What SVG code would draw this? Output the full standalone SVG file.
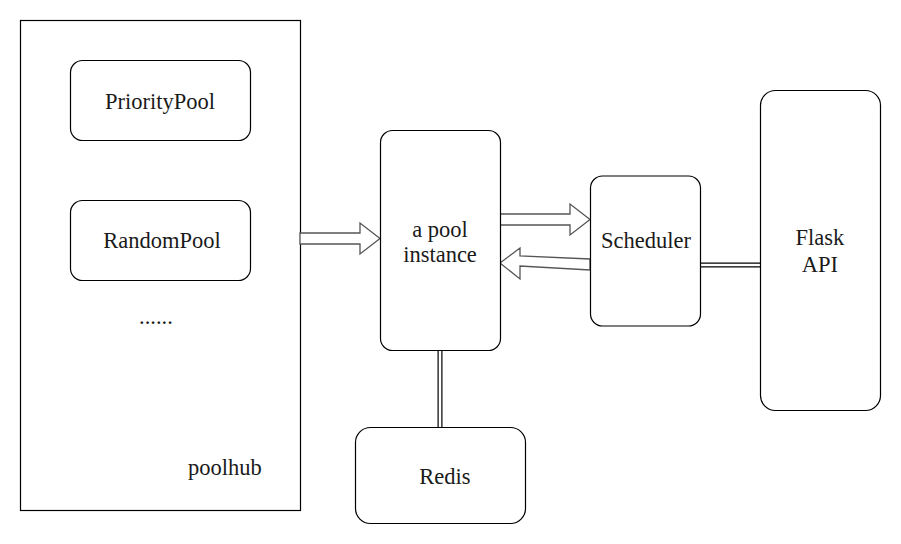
<svg xmlns="http://www.w3.org/2000/svg" width="901" height="544" viewBox="0 0 901 544">
<rect width="901" height="544" fill="#fff"/>
<g id="poolhub">
<rect fill="#fff" stroke="#000" stroke-width="1.2" x="20.5" y="20.5" width="280" height="490"/>
<text style="font-family:'Liberation Serif','Times New Roman',serif;font-size:22.5px;fill:#1a1a1a" x="188" y="475">poolhub</text>
<text style="font-family:'Liberation Serif','Times New Roman',serif;font-size:22.5px;fill:#1a1a1a" x="139" y="324">......</text>
</g>
<g id="prioritypool">
<rect fill="#fff" stroke="#000" stroke-width="1.2" x="70.5" y="60.5" width="180" height="80" rx="12"/>
<text style="font-family:'Liberation Serif','Times New Roman',serif;font-size:22.5px;fill:#1a1a1a" text-anchor="middle" x="160" y="109">PriorityPool</text>
</g>
<g id="randompool">
<rect fill="#fff" stroke="#000" stroke-width="1.2" x="70.5" y="200.5" width="180" height="80" rx="12"/>
<text style="font-family:'Liberation Serif','Times New Roman',serif;font-size:22.5px;fill:#1a1a1a" text-anchor="middle" x="162" y="248">RandomPool</text>
</g>
<g id="connectors">
<line stroke="#000" stroke-width="5" x1="440" y1="350" x2="440" y2="428"/>
<line stroke="#fff" stroke-width="2.6" x1="440" y1="350" x2="440" y2="428"/>
<line stroke="#000" stroke-width="5" x1="700" y1="265" x2="760" y2="265"/>
<line stroke="#fff" stroke-width="2.6" x1="700" y1="265" x2="760" y2="265"/>
<polygon fill="#fff" stroke="#555" stroke-width="1.3" points="300,233 360,233 360,223 380,238.5 360,254 360,244 300,244"/>
<polygon fill="#fff" stroke="#555" stroke-width="1.3" points="500,214 570,214 570,204 590,219.5 570,235 570,225 500,225"/>
<polygon fill="#fff" stroke="#555" stroke-width="1.3" points="590,259 520,256 520,248 500,263 520,279 520,266 590,270"/>
</g>
<g id="pool-instance">
<rect fill="#fff" stroke="#000" stroke-width="1.2" x="380.5" y="130.5" width="120" height="220" rx="12"/>
<text style="font-family:'Liberation Serif','Times New Roman',serif;font-size:22.5px;fill:#1a1a1a" text-anchor="middle" x="440" y="237">a pool</text>
<text style="font-family:'Liberation Serif','Times New Roman',serif;font-size:22.5px;fill:#1a1a1a" text-anchor="middle" x="440" y="262">instance</text>
</g>
<g id="scheduler">
<rect fill="#fff" stroke="#000" stroke-width="1.2" x="590.5" y="176" width="110" height="150" rx="12"/>
<text style="font-family:'Liberation Serif','Times New Roman',serif;font-size:22.5px;fill:#1a1a1a" text-anchor="middle" x="646" y="248">Scheduler</text>
</g>
<g id="flask-api">
<rect fill="#fff" stroke="#000" stroke-width="1.2" x="760.5" y="90.5" width="120" height="320" rx="15"/>
<text style="font-family:'Liberation Serif','Times New Roman',serif;font-size:22.5px;fill:#1a1a1a" text-anchor="middle" x="820" y="245">Flask</text>
<text style="font-family:'Liberation Serif','Times New Roman',serif;font-size:22.5px;fill:#1a1a1a" text-anchor="middle" x="820" y="272">API</text>
</g>
<g id="redis">
<rect fill="#fff" stroke="#000" stroke-width="1.2" x="355.5" y="427.5" width="170" height="96" rx="15"/>
<text style="font-family:'Liberation Serif','Times New Roman',serif;font-size:22.5px;fill:#1a1a1a" text-anchor="middle" x="445" y="484">Redis</text>
</g>
</svg>
